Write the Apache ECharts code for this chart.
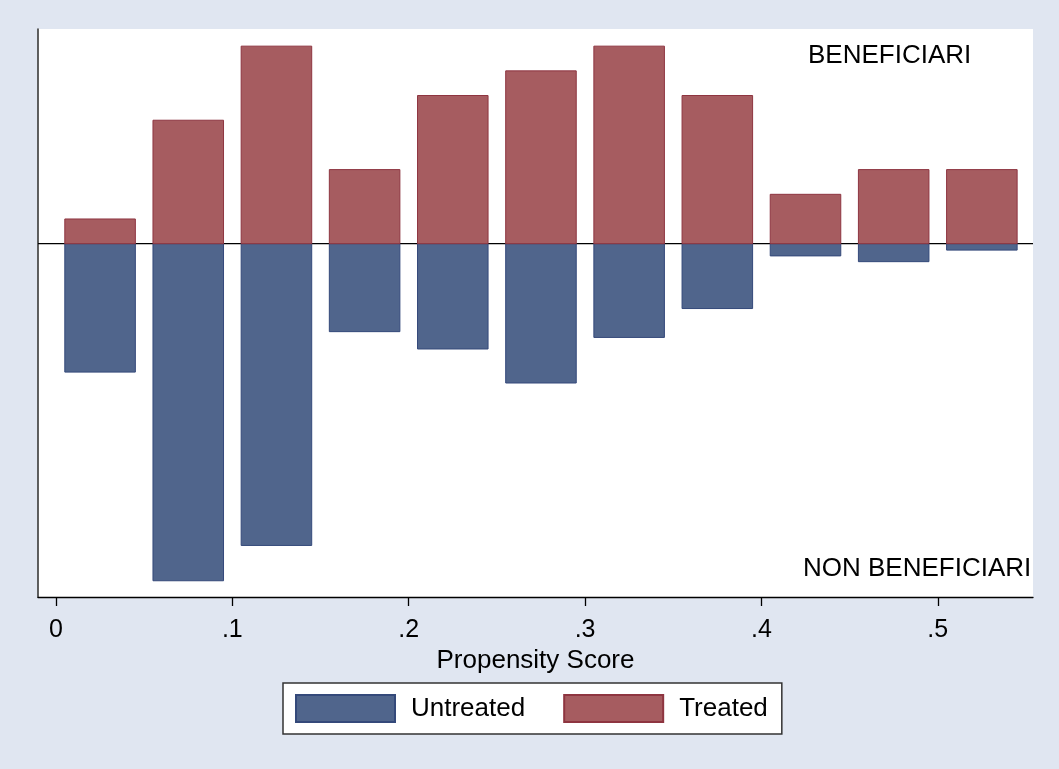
<!DOCTYPE html>
<html>
<head>
<meta charset="utf-8">
<script src="https://cdn.jsdelivr.net/npm/echarts@6/dist/echarts.min.js"></script>
<style>
html,body{margin:0;padding:0;background:#ffffff;}
#chart{width:1059px;height:769px;}
</style>
</head>
<body>
<div id="chart"></div>
<script>
// Bin centres (propensity score), bin width 0.05
const binCenters = [0.025, 0.075, 0.125, 0.175, 0.225, 0.275, 0.325, 0.375, 0.425, 0.475, 0.525];
// Treated density (plotted upward)
const treated = [0.385, 1.923, 3.077, 1.154, 2.308, 2.692, 3.077, 2.308, 0.769, 1.154, 1.154];
// Untreated density (plotted downward)
const untreated = [2.00, 5.25, 4.70, 1.37, 1.64, 2.17, 1.46, 1.01, 0.19, 0.28, 0.10];
// X tick values and labels
const xTicks = [0, 0.1, 0.2, 0.3, 0.4, 0.5];
const xTickLabels = ['0', '.1', '.2', '.3', '.4', '.5'];
const xMin = -0.0102, xMax = 0.554;
const yMin = -5.503, yMax = 3.344;
const barWidthData = 0.04;

const FONT = '"Liberation Sans", Arial, sans-serif';

function renderBar(params, api) {
  const x = api.value(0), y = api.value(1);
  const p0 = api.coord([x - barWidthData / 2, 0]);
  const p1 = api.coord([x + barWidthData / 2, y]);
  const st = api.style();
  return {
    type: 'rect',
    shape: { x: p0[0], y: Math.min(p0[1], p1[1]), width: p1[0] - p0[0], height: Math.abs(p1[1] - p0[1]) },
    style: st
  };
}

const chart = echarts.init(document.getElementById('chart'));
chart.setOption({
  backgroundColor: '#E0E6F1',
  animation: false,
  grid: { left: 38, right: 26, top: 29, bottom: 172, show: true, backgroundColor: '#ffffff', borderWidth: 0, containLabel: false },
  xAxis: {
    type: 'value', min: xMin, max: xMax,
    name: 'Propensity Score', nameLocation: 'middle', nameGap: 45,
    nameTextStyle: { fontFamily: FONT, fontSize: 26, color: '#000' },
    axisLine: { show: true, onZero: false, lineStyle: { color: '#000', width: 1.3 } },
    axisTick: { show: true, length: 9, lineStyle: { color: '#000', width: 1.3 }, customValues: xTicks },
    axisLabel: { fontFamily: FONT, fontSize: 25, color: '#000', margin: 21, customValues: xTicks,
      formatter: function (v) { const i = xTicks.findIndex(t => Math.abs(t - v) < 1e-9); return i >= 0 ? xTickLabels[i] : ''; } },
    splitLine: { show: false }
  },
  yAxis: {
    type: 'value', min: yMin, max: yMax,
    axisLine: { show: true, onZero: false, lineStyle: { color: '#444', width: 1.7 } },
    axisTick: { show: false }, axisLabel: { show: false }, splitLine: { show: false }
  },
  legend: {
    left: 283, top: 683,
    padding: [11, 14, 11, 12],
    itemWidth: 99, itemHeight: 27, itemGap: 38,
    backgroundColor: '#ffffff', borderColor: '#333', borderWidth: 1.5, borderRadius: 0,
    icon: 'rect',
    textStyle: { fontFamily: FONT, fontSize: 26, color: '#000', padding: [3, 0, 0, 11] },
    data: ['Untreated', 'Treated']
  },
  graphic: [
    { type: 'text', left: 808, top: 43, style: { text: 'BENEFICIARI', font: '26px ' + FONT, fill: '#000' } },
    { type: 'text', left: 803, top: 556, style: { text: 'NON BENEFICIARI', font: '26px ' + FONT, fill: '#000' } }
  ],
  series: [
    {
      name: 'zero', type: 'line', z: 1, silent: true, symbol: 'none',
      data: [[xMin, 0], [xMax, 0]],
      lineStyle: { color: '#000', width: 1.2 }
    },
    {
      name: 'Untreated', type: 'custom', z: 2, renderItem: renderBar,
      itemStyle: { color: '#50658C', borderColor: '#34497A', borderWidth: 1 },
      data: binCenters.map((x, i) => [x, -untreated[i]])
    },
    {
      name: 'Treated', type: 'custom', z: 2, renderItem: renderBar,
      itemStyle: { color: '#A65C60', borderColor: '#8E3540', borderWidth: 1 },
      data: binCenters.map((x, i) => [x, treated[i]])
    }
  ]
});
</script>
</body>
</html>
